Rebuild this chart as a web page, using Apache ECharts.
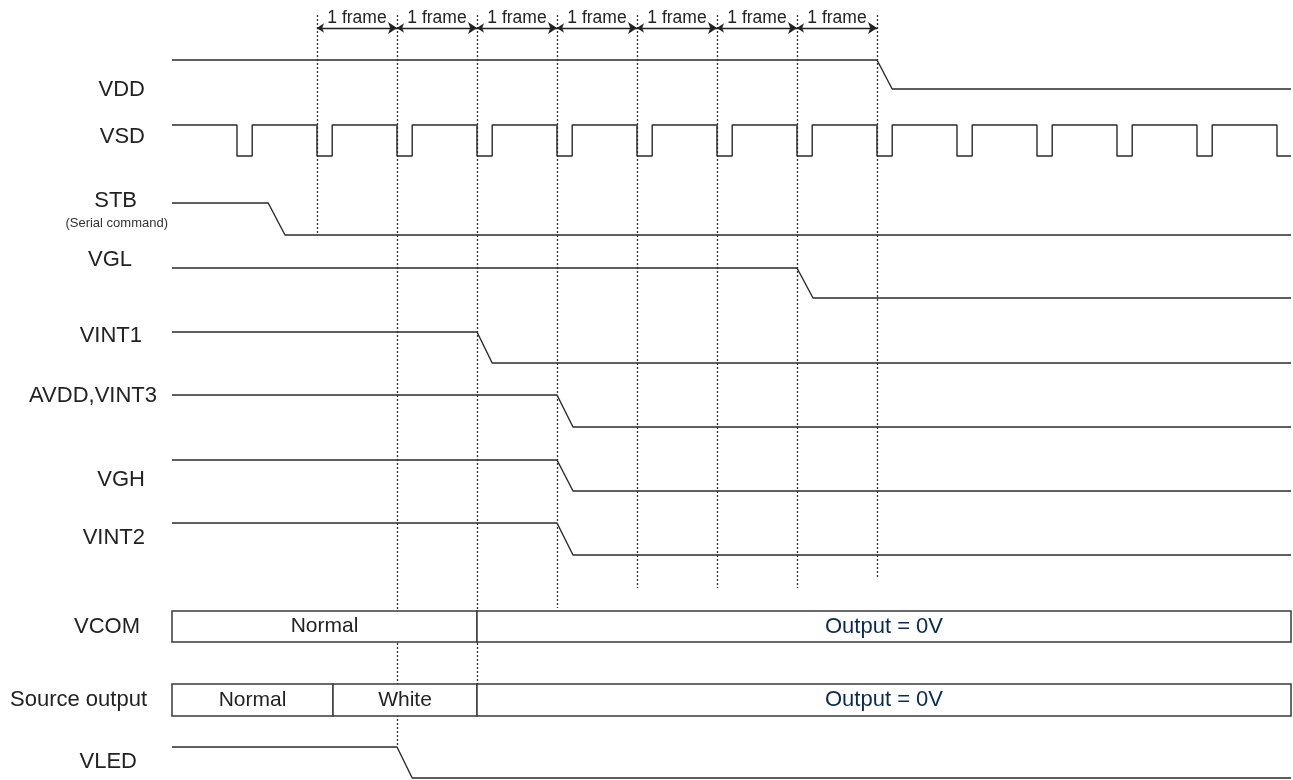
<!DOCTYPE html>
<html>
<head>
<meta charset="utf-8">
<style>
  html, body { margin: 0; padding: 0; background: #ffffff; }
  #chart { width: 1293px; height: 780px; }
</style>
<script src="https://cdn.jsdelivr.net/npm/echarts@6/dist/echarts.min.js"></script>
</head>
<body>
<div id="chart"></div>
<script>
// ---------------- DATA ----------------
// time axis in frames (t = 0 at the first "1 frame" marker)
const T_START = -1.8125;
const T_END = 12.175;

// signal names (left labels)
const signalNames = ['VDD', 'VSD', 'STB', 'VGL', 'VINT1', 'AVDD,VINT3', 'VGH', 'VINT2', 'VCOM', 'Source output', 'VLED'];
const signalSubNote = '(Serial command)';

// trace levels (vertical trace units, top = 0)
const levelHigh = { VDD: 60, VSD: 125, STB: 203, VGL: 268, VINT1: 332, AVDD: 395, VGH: 460, VINT2: 523, VLED: 747 };
const levelLow  = { VDD: 89, VSD: 156, STB: 235, VGL: 298, VINT1: 363, AVDD: 427, VGH: 491, VINT2: 555, VLED: 778 };
const labelLevel = [90, 137, 201, 260, 336, 396, 480, 538, 627, 700, 762];
const subNoteLevel = 223;

// falling edges: [start of fall, end of fall] in frames
const fallVDD   = [7, 7.19];
const fallSTB   = [-0.61, -0.4];
const fallVGL   = [6, 6.2];
const fallVINT1 = [2, 2.19];
const fallAVDD  = [3, 3.2];
const fallVGH   = [3, 3.2];
const fallVINT2 = [3, 3.2];
const fallVLED  = [1, 1.19];

// VSD low pulses: start times (frames) and width
const vsdPulseStarts = [-1, 0, 1, 2, 3, 4, 5, 6, 7, 8, 9, 10, 11, 12];
const vsdPulseWidth = 0.19;

// "1 frame" intervals
const frameMarkers = [0, 1, 2, 3, 4, 5, 6, 7];
const frameLabel = '1 frame';
// dashed guide lines: lower end level for each marker
const guideBottom = [235, 747, 684, 608, 588, 588, 588, 578];
const guideTop = 15;
const arrowLevel = 28;

// state boxes: [row, tStart, tEnd, text]
const boxRows = { VCOM: [611, 642], Source: [684, 716] };
const vcomSegments = [['VCOM', T_START, 2, 'Normal'], ['VCOM', 2, T_END, 'Output = 0V']];
const sourceSegments = [['Source', T_START, 0.2, 'Normal'], ['Source', 0.2, 2, 'White'], ['Source', 2, T_END, 'Output = 0V']];

// ---------------- LAYOUT / STYLE ----------------
const labelGap = [27, 27, 35, 40, 30, 15, 27, 27, 32, 25, 35];
const subNoteGap = 4;
const FONT = 'Liberation Sans, Arial, sans-serif';
const LINE_COLOR = '#2a2a2a';

function stepFall(name, fall) {
  const hi = levelHigh[name], lo = levelLow[name];
  return [[T_START, hi], [fall[0], hi], [fall[1], lo], [T_END, lo]];
}
function vsdData() {
  const hi = levelHigh.VSD, lo = levelLow.VSD;
  const d = [[T_START, hi]];
  vsdPulseStarts.forEach(p => {
    d.push([p, hi], [p, lo]);
    if (p + vsdPulseWidth < T_END) {
      d.push([p + vsdPulseWidth, lo], [p + vsdPulseWidth, hi]);
    } else {
      d.push([T_END, lo]);
    }
  });
  return d;
}

const waves = [
  ['VDD', stepFall('VDD', fallVDD)],
  ['VSD', vsdData()],
  ['STB', stepFall('STB', fallSTB)],
  ['VGL', stepFall('VGL', fallVGL)],
  ['VINT1', stepFall('VINT1', fallVINT1)],
  ['AVDD', stepFall('AVDD', fallAVDD)],
  ['VGH', stepFall('VGH', fallVGH)],
  ['VINT2', stepFall('VINT2', fallVINT2)],
  ['VLED', stepFall('VLED', fallVLED)]
];

const series = [];

// dashed guides
series.push({
  type: 'lines',
  coordinateSystem: 'cartesian2d',
  z: 1,
  silent: true,
  lineStyle: { color: '#333', width: 1.3, type: [2, 2], opacity: 1 },
  data: frameMarkers.map((t, i) => ({ coords: [[t, guideTop], [t, guideBottom[i]]] }))
});

// frame arrows
series.push({
  type: 'lines',
  coordinateSystem: 'cartesian2d',
  z: 3,
  silent: true,
  symbol: ['arrow', 'arrow'],
  symbolSize: [7, 9],
  lineStyle: { color: '#222', width: 1.3, opacity: 1 },
  label: {
    show: true, position: 'middle', formatter: frameLabel,
    color: '#222', fontSize: 17.5, fontFamily: FONT, distance: 1
  },
  data: frameMarkers.slice(0, 7).map(t => ({ coords: [[t, arrowLevel], [t + 1, arrowLevel]] }))
});

// waveforms
waves.forEach(([name, data]) => {
  series.push({
    type: 'line', name, data, symbol: 'none', z: 4, silent: true,
    lineStyle: { color: LINE_COLOR, width: 1.4 },
    animation: false
  });
});

// state boxes
const allSegments = vcomSegments.concat(sourceSegments);
series.push({
  type: 'custom',
  z: 5,
  silent: true,
  data: allSegments.map((s, i) => [i]),
  renderItem: function (params, api) {
    const seg = allSegments[params.dataIndex];
    const rows = boxRows[seg[0]];
    const p1 = api.coord([seg[1], rows[0]]);
    const p2 = api.coord([seg[2], rows[1]]);
    const isOut = seg[3].indexOf('Output') === 0;
    return {
      type: 'group',
      children: [
        { type: 'rect', shape: { x: p1[0], y: p1[1], width: p2[0] - p1[0], height: p2[1] - p1[1] },
          style: { fill: '#fff', stroke: '#3a3a3a', lineWidth: 1.5 } },
        { type: 'text', x: (p1[0] + p2[0]) / 2, y: (p1[1] + p2[1]) / 2,
          style: { text: seg[3], fill: isOut ? '#0a2a52' : '#222', font: (isOut ? '22px ' : '21px ') + FONT,
                   align: 'center', verticalAlign: 'middle' } }
      ]
    };
  }
});

// left labels
series.push({
  type: 'custom',
  z: 6,
  silent: true,
  data: signalNames.map((n, i) => [i]),
  renderItem: function (params, api) {
    const i = params.dataIndex;
    const p = api.coord([T_START, labelLevel[i]]);
    const children = [{
      type: 'text', x: p[0] - labelGap[i], y: p[1],
      style: { text: signalNames[i], fill: '#222', font: '22px ' + FONT, align: 'right', verticalAlign: 'middle' }
    }];
    if (signalNames[i] === 'STB') {
      const q = api.coord([T_START, subNoteLevel]);
      children.push({
        type: 'text', x: q[0] - subNoteGap, y: q[1],
        style: { text: signalSubNote, fill: '#333', font: '13px ' + FONT, align: 'right', verticalAlign: 'middle' }
      });
    }
    return { type: 'group', children };
  }
});

const chart = echarts.init(document.getElementById('chart'));
chart.setOption({
  backgroundColor: '#ffffff',
  animation: false,
  grid: { left: 172, right: 2, top: 0, bottom: 0 },
  xAxis: { type: 'value', min: T_START, max: T_END, show: false },
  yAxis: { type: 'value', min: 0, max: 780, inverse: true, show: false },
  series
});
</script>
</body>
</html>
